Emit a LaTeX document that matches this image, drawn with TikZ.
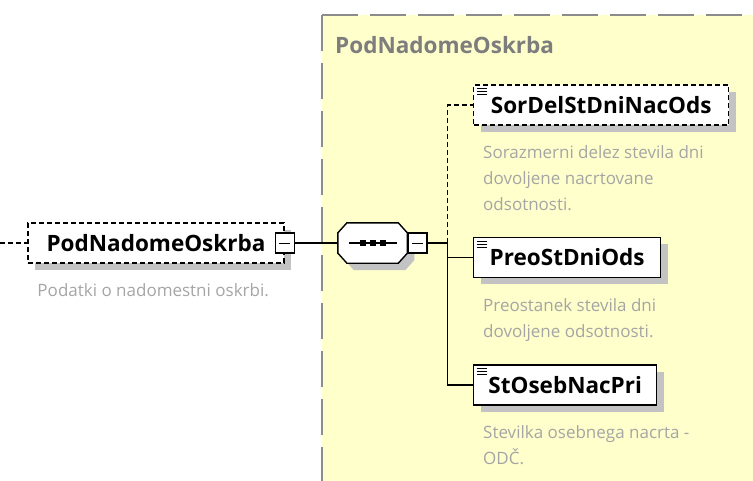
\documentclass[tikz,border=0pt]{standalone}
\usepackage{fontspec}
\setmainfont{Open Sans}
\usepackage{xcolor}
\usepackage{tikz}
\usetikzlibrary{positioning, shadows}

\definecolor{panelyellow}{RGB}{255,255,204}
\definecolor{bordergray}{RGB}{140,140,140}
\definecolor{titlegray}{RGB}{125,125,125}
\definecolor{descgray}{RGB}{165,165,165}
\definecolor{shadowgray}{RGB}{195,195,195}

\begin{document}
\begin{tikzpicture}[x=1pt, y=1pt, node distance=20pt]
    % Définition des styles
    \tikzset{
        ombre/.style   = {drop shadow={shadow xshift=7pt, shadow yshift=-7pt, fill=shadowgray, opacity=1}},
        elem/.style    = {rectangle, draw, fill=white, line width=1.4pt, font=\fontsize{22.5}{26}\selectfont\bfseries, minimum height=40pt, inner sep=0pt, ombre},
        optelem/.style = {elem, dash pattern=on 5pt off 3pt},
        icon/.style    = {path picture={
            \foreach \k in {3.5,6.5,9.5}
                \draw[solid, line width=0.8pt] ([xshift=3pt, yshift=-\k pt]path picture bounding box.north west) -- ++(10pt,0);}},
        minus/.style   = {rectangle, draw, fill=white, line width=1.4pt, minimum width=19pt, minimum height=20pt, inner sep=0pt, path picture={
            \draw[line width=1pt] ([xshift=4pt]path picture bounding box.west) -- ([xshift=-4pt]path picture bounding box.east);}},
        seq/.style     = {rectangle, minimum width=69pt, minimum height=40pt, inner sep=0pt},
        octo/.style    = {draw, fill=white, line width=1.4pt, ombre},
        desc/.style    = {font=\fontsize{17}{26}\selectfont, text=descgray, align=left, inner sep=0pt},
        title/.style   = {font=\fontsize{22.5}{26}\selectfont\bfseries, text=titlegray, inner sep=0pt},
        line/.style    = {draw, line width=1.4pt},
        optline/.style = {line, dash pattern=on 5pt off 3pt}
    }
    \useasboundingbox (0,0) rectangle (753,-480);

    % Panneau de la séquence
    \fill[panelyellow] (322,-15) rectangle (760,-490);
    \draw[bordergray, line width=1.6pt, dash pattern=on 36pt off 12pt] (322,-15) -- (760,-15);
    \draw[bordergray, line width=1.6pt, dash pattern=on 36pt off 12pt] (322,-15) -- (322,-490);
    \node [title, anchor=west] (titre) at (335,-45) {PodNadomeOskrba};

    % Élément principal
    \coordinate (entree) at (0,-243);
    \node [optelem, minimum width=256pt] (pno) at (156,-243) {PodNadomeOskrba};
    \node [minus] (pnomoins) at (pno.east) {};
    \node [desc, below right=20pt and 10pt of pno.south west] (pnodesc) {Podatki o nadomestni oskrbi.};

    % Séquence
    \node [seq, right=43pt of pnomoins] (seq) {};
    \draw [octo] ([xshift=9pt]seq.north west) -- ([xshift=-9pt]seq.north east) -- ([yshift=-10pt]seq.north east)
        -- ([yshift=10pt]seq.south east) -- ([xshift=-9pt]seq.south east) -- ([xshift=9pt]seq.south west)
        -- ([yshift=10pt]seq.south west) -- ([yshift=-10pt]seq.north west) -- cycle;
    \draw [line width=1.2pt] ([xshift=-24pt]seq.center) -- ([xshift=24pt]seq.center);
    \foreach \dx in {-10,0,10}
        \fill ([xshift=\dx pt]seq.center) +(-3pt,-3pt) rectangle +(3pt,3pt);
    \node [minus, right=0pt of seq] (seqmoins) {};
    \coordinate [right=20pt of seqmoins] (jonction);

    % Éléments enfants
    \node [optelem, icon, minimum width=255pt, anchor=west] (sordel) at (473,-105) {SorDelStDniNacOds};
    \node [elem, icon, minimum width=187pt, below=111pt of sordel.south west, anchor=north west] (preo) {PreoStDniOds};
    \node [elem, icon, minimum width=183pt, below=86pt of preo.south west, anchor=north west] (stoseb) {StOsebNacPri};

    \node [desc, below right=20pt and 10pt of sordel.south west] (sordeldesc) {Sorazmerni delez stevila dni\\dovoljene nacrtovane\\odsotnosti.};
    \node [desc, below right=20pt and 10pt of preo.south west] (preodesc) {Preostanek stevila dni\\dovoljene odsotnosti.};
    \node [desc, below right=20pt and 10pt of stoseb.south west] (stosebdesc) {Stevilka osebnega nacrta -\\ODČ.};

    % Connexions
    \path [optline] (entree) -- (pno);
    \path [line] (pnomoins) -- (seq);
    \path [line] (seqmoins) -- (jonction);
    \path [optline] (jonction) |- (sordel);
    \path [line] (jonction) |- (preo);
    \path [line] (jonction) |- (stoseb);
\end{tikzpicture}
\end{document}
